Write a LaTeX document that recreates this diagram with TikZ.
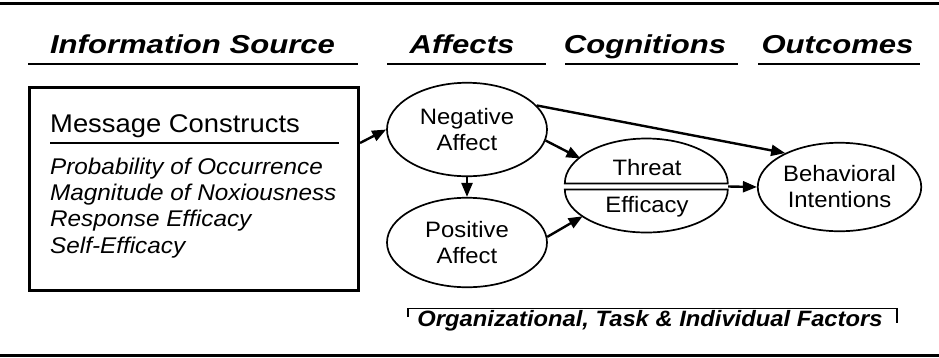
\documentclass[tikz,border=0pt]{standalone}
\usepackage{fontspec}
\setmainfont{Liberation Sans}[FakeStretch=1.07]
\newfontfamily\headfont{Liberation Sans}[FakeStretch=1.2]
\usetikzlibrary{arrows.meta,shapes.geometric}

\tikzset{
  conn/.style={line width=2.4pt, -{Triangle[length=14pt,width=11pt]}},
  rule/.style={line width=3pt},
  thin rule/.style={line width=1.5pt},
  oval/.style={ellipse, draw, line width=1.7pt, inner sep=0pt, align=center,
    font=\fontsize{22.3}{26}\selectfont},
  head/.style={anchor=base, inner sep=0pt,
    font=\headfont\bfseries\itshape\fontsize{25.9}{28}\selectfont},
  item/.style={anchor=base west, inner sep=0pt,
    font=\itshape\fontsize{22.7}{26}\selectfont},
  plain/.style={anchor=base, inner sep=0pt, font=\fontsize{22.3}{26}\selectfont},
}

\begin{document}
\begin{tikzpicture}[x=1pt, y=-1pt]
  \useasboundingbox (0,0) rectangle (939,357);

  % page rules
  \draw[rule] (0,3) -- (939,3);
  \draw[rule] (0,355) -- (939,355);

  % column headings
  \node[head] (hsrc) at (192.5,53) {Information Source};
  \node[head] (haff) at (462,53) {Affects};
  \node[head] (hcog) at (645,53) {Cognitions};
  \node[head] (hout) at (837.5,53) {Outcomes};
  \draw[thin rule] (28,64) -- (358,64);
  \draw[thin rule] (387,64) -- (546,64);
  \draw[thin rule] (565,64) -- (738,64);
  \draw[thin rule] (758,64) -- (920,64);

  % information source box
  \node[draw, line width=3pt, minimum width=329pt, minimum height=203pt,
        inner sep=0pt] (box) at (194,189) {};
  \node[anchor=base west, inner sep=0pt, font=\fontsize{25.6}{28}\selectfont]
        (msg) at (50,132.3) {Message Constructs};
  \coordinate (mr1) at (50,143);
  \coordinate (mr2) at (339,143);
  \draw[line width=2pt] (mr1) -- (mr2);
  \node[item] (i1) at (50,174) {Probability of Occurrence};
  \node[item] (i2) at (50,200.5) {Magnitude of Noxiousness};
  \node[item] (i3) at (50,226.8) {Response Efficacy};
  \node[item] (i4) at (50,253) {Self-Efficacy};

  % affects
  \node[oval, minimum width=160pt, minimum height=93.5pt] (neg) at (467,129.5)
        {Negative\\Affect};
  \node[oval, minimum width=160pt, minimum height=89.5pt] (pos) at (467,242.5)
        {Positive\\Affect};

  % cognitions: split oval
  \node[ellipse, minimum width=163pt, minimum height=95pt, inner sep=0pt]
        (cog) at (646.5,186.5) {};
  \draw[line width=1.7pt] ([yshift=3pt]cog.west)
        arc[start angle=180, end angle=0, x radius=81.5pt, y radius=45pt] -- cycle;
  \draw[line width=1.7pt] ([yshift=-3pt]cog.west)
        arc[start angle=180, end angle=360, x radius=81.5pt, y radius=43pt] -- cycle;
  \node[plain] (threat) at (647,175) {Threat};
  \node[plain] (eff) at (647,212.5) {Efficacy};

  % outcomes
  \node[oval, minimum width=163.5pt, minimum height=88.5pt] (beh) at (839.5,187)
        {Behavioral\\Intentions};

  % connectors
  \draw[conn] (box.east |- mr2) -- (neg.west);
  \draw[conn] (neg.south) -- (pos.north);
  \draw[conn] (neg.-8) -- (cog.157);
  \draw[conn] (pos.4) -- (cog.205);
  \draw[conn] (neg.19) -- (beh.148);
  \draw[conn] (cog.east) -- (beh.west);

  % moderating factors
  \node[anchor=base, inner sep=0pt,
        font=\bfseries\itshape\fontsize{22.2}{24}\selectfont]
        (fac) at (650,326.5) {Organizational, Task \& Individual Factors};
  \draw[thin rule] (408,317) -- (408,308.5) -- (897,308.5) -- (897,323);
\end{tikzpicture}
\end{document}
